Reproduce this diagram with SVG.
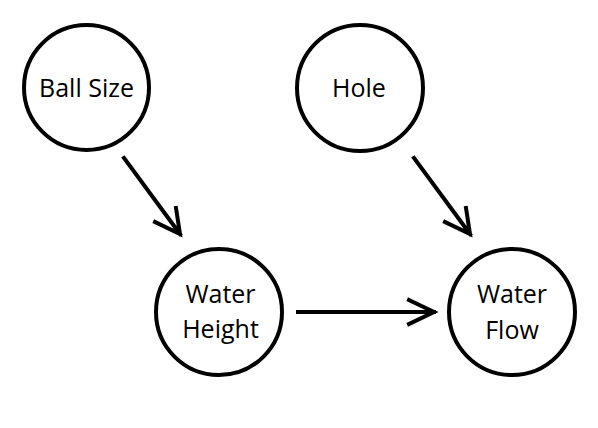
<svg xmlns="http://www.w3.org/2000/svg" width="598" height="428" viewBox="0 0 598 428">
<style>
.node circle{fill:#fff;stroke:#000;stroke-width:4}
.node text{font-family:"Open Sans","Noto Sans",sans-serif;font-size:25px;fill:#000;text-anchor:middle}
.edge{stroke:#000;stroke-width:4;fill:none;stroke-linecap:square}
</style>
<rect width="598" height="428" fill="#fff"/>
<g id="ball-size" class="node"><circle cx="86.5" cy="87.5" r="62.5"/><text x="86.5" y="97">Ball Size</text></g>
<g id="hole" class="node"><circle cx="360" cy="88" r="63"/><text x="359" y="97">Hole</text></g>
<g id="water-height" class="node"><circle cx="219" cy="312" r="63"/><text x="220.5" y="303">Water</text><text x="220.5" y="338">Height</text></g>
<g id="water-flow" class="node"><circle cx="512" cy="312" r="63"/><text x="512" y="303">Water</text><text x="512" y="339">Flow</text></g>
<g id="connectors">
<path class="edge" d="M124 158 L180 234 M176 208 L180 234 L155 222"/>
<path class="edge" d="M414 158 L470 234 M466 208 L470 234 L445 222"/>
<path class="edge" d="M298 312 L434 312 M409 300 L434 312 L409 324"/>
</g>
</svg>
